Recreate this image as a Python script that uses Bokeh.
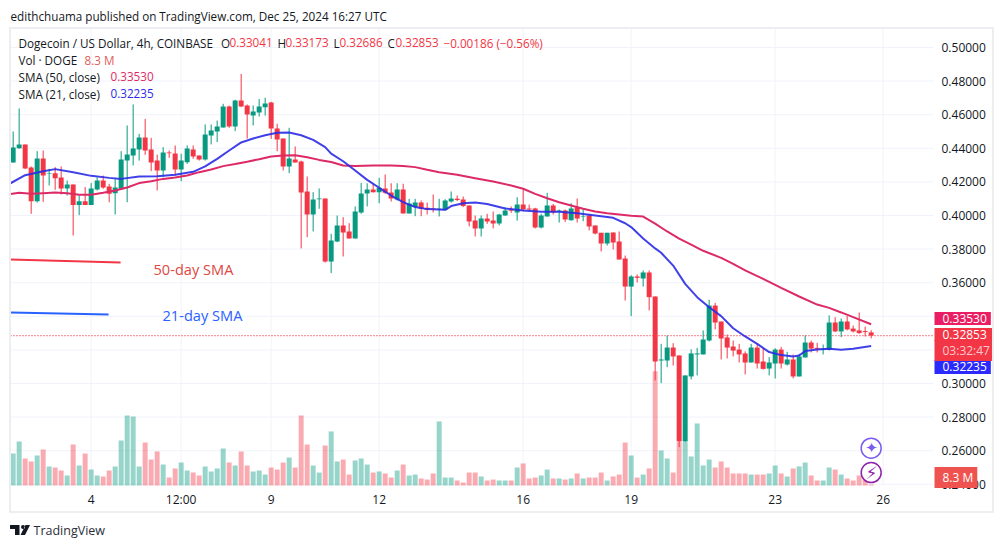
from bokeh.plotting import figure
from bokeh.embed import file_html
from bokeh.resources import INLINE
from bokeh.models import (Range1d, FixedTicker, NumeralTickFormatter, Label, InlineStyleSheet,
                          ColumnDataSource)

opens = [.4315,.4401,.4423,.4286,.4085,.4339,.4248,.4252,.4226,.4161,.4185,.4062,.4085,.4062,.4155,.4208,.4173,.4133,.4159,.4327,
 .4357,.4393,.4464,.4393,.4327,.4268,.4375,.4369,.4274,.4317,.4393,.4357,.4333,.4476,.4500,.4524,.4649,.4530,.4685,.4655,
 .4595,.4613,.4645,.4673,.4518,.4458,.4292,.4333,.4322,.4143,.4006,.4097,.4101,.3726,.3845,.3941,.3905,.3863,.4018,.4131,
 .4155,.4139,.4161,.4137,.4095,.4155,.4012,.4050,.4077,.4046,.4042,.4036,.4034,.4083,.4099,.4095,.4060,.3970,.3923,.3982,
 .3970,.3952,.4000,.4034,.4018,.4065,.4042,.4042,.3929,.3994,.4060,.4024,.4030,.3972,.4048,.3992,.4000,.3941,.3897,.3833,
 .3899,.3845,.3744,.3577,.3637,.3625,.3661,.3518,.3137,.3137,.3214,.3167,.2655,.3042,.3173,.3173,.3256,.3464,.3369,.3274,
 .3220,.3202,.3179,.3125,.3214,.3131,.3089,.3119,.3202,.3113,.3143,.3042,.3155,.3244,.3212,.3202,.3202,.3363,.3310,.3369,
 .3327,.3316,.3312,.33041]
highs = [.4500,.4637,.4423,.4292,.4383,.4387,.4278,.4288,.4292,.4208,.4185,.4119,.4169,.4193,.4228,.4238,.4189,.4218,.4383,.4536,
 .4661,.4486,.4575,.4462,.4363,.4407,.4387,.4417,.4367,.4417,.4417,.4357,.4542,.4542,.4565,.4665,.4655,.4689,.4843,.4661,
 .4655,.4693,.4701,.4677,.4546,.4458,.4522,.4411,.4327,.4232,.4139,.4161,.4101,.3891,.4000,.3990,.3954,.4054,.4194,.4192,
 .4189,.4224,.4244,.4192,.4192,.4189,.4099,.4099,.4089,.4077,.4125,.4099,.4097,.4143,.4119,.4113,.4060,.4000,.4000,.4010,
 .4024,.4010,.4050,.4054,.4109,.4153,.4065,.4046,.4010,.4135,.4069,.4036,.4036,.4073,.4101,.4040,.4010,.3941,.3897,.3897,
 .3899,.3905,.3762,.3645,.3649,.3673,.3673,.3518,.3236,.3286,.3240,.3167,.3048,.3203,.3212,.3316,.3498,.3480,.3369,.3292,
 .3256,.3236,.3191,.3236,.3232,.3210,.3157,.3210,.3218,.3189,.3173,.3177,.3286,.3256,.3242,.3232,.3405,.3395,.3387,.3401,
 .3345,.3423,.3339,.33173]
lows = [.4315,.4397,.4276,.4010,.4077,.4081,.4179,.4153,.4125,.4119,.3881,.4002,.4062,.4062,.4149,.4159,.4079,.4006,.4159,.4079,
 .4298,.4327,.4361,.4264,.4149,.4228,.4343,.4238,.4204,.4307,.4337,.4327,.4327,.4423,.4437,.4524,.4522,.4502,.4645,.4458,
 .4536,.4589,.4595,.4456,.4383,.4268,.4252,.4315,.3804,.3871,.3905,.4040,.3720,.3657,.3841,.3756,.3863,.3863,.4010,.4054,
 .4137,.4073,.4129,.4083,.4089,.4012,.4012,.3996,.3996,.4006,.4018,.3994,.4030,.4077,.4085,.4050,.3935,.3875,.3875,.3950,
 .3923,.3941,.3998,.4016,.3970,.4026,.4030,.3923,.3923,.3994,.4006,.3958,.3962,.3970,.3958,.3966,.3911,.3887,.3786,.3821,
 .3798,.3738,.3494,.3401,.3601,.3577,.3435,.3018,.3002,.3097,.3107,.2621,.2651,.3024,.3048,.3173,.3250,.3322,.3143,.3149,
 .3161,.3125,.3054,.3125,.3089,.3083,.3048,.3030,.3089,.3107,.3030,.3042,.3155,.3185,.3185,.3173,.3196,.3306,.3276,.3316,
 .3304,.3296,.3280,.32686]
closes = [.4405,.4423,.4280,.4085,.4339,.4238,.4252,.4222,.4161,.4185,.4062,.4085,.4062,.4161,.4208,.4167,.4129,.4167,.4333,.4363,
 .4399,.4464,.4387,.4315,.4268,.4375,.4371,.4274,.4327,.4399,.4351,.4333,.4482,.4506,.4530,.4649,.4530,.4685,.4649,.4601,
 .4619,.4649,.4667,.4518,.4452,.4292,.4339,.4315,.4137,.4006,.4095,.4101,.3726,.3851,.3941,.3899,.3863,.4024,.4131,.4155,
 .4139,.4165,.4135,.4101,.4155,.4012,.4071,.4077,.4040,.4034,.4038,.4040,.4089,.4101,.4093,.4056,.3964,.3923,.3982,.3964,
 .3952,.4006,.4030,.4028,.4065,.4036,.4036,.3929,.4000,.4060,.4018,.4030,.3976,.4042,.3982,.3996,.3935,.3893,.3833,.3897,
 .3839,.3738,.3577,.3637,.3629,.3661,.3514,.3131,.3143,.3214,.3161,.2655,.3048,.3179,.3179,.3262,.3464,.3363,.3268,.3214,
 .3196,.3173,.3125,.3214,.3119,.3087,.3125,.3202,.3119,.3143,.3042,.3161,.3244,.3208,.3206,.3208,.3363,.3310,.3369,.3322,
 .3310,.3300,.3306,.32853]
volumes = [269,370,227,202,252,302,160,151,126,84,344,168,269,134,84,76,126,160,378,588,580,160,361,218,286,176,67,143,193,126,
 109,84,160,118,143,311,193,168,286,168,118,126,92,151,134,193,235,151,588,344,168,109,336,454,
 202,218,92,210,227,176,109,118,101,67,126,176,84,92,59,50,101,538,67,67,42,25,109,109,76,42,50,42,42,42,151,185,59,67,84,134,
 59,59,50,59,101,59,67,67,109,42,76,92,361,252,67,92,143,960,294,
 227,109,364,364,244,521,168,218,151,202,151,101,101,101,92,92,92,101,168,101,76,143,160,193,84,42,42,151,134,92,59,42,84,50,8.3]

sma21_i = [-0.44,2,5,7,10,13,16,18,21,24,27,30,32,34,36,38,40,42,44,46,48,50,52,53,55,57,59,61,63,65,67,69,72,73,75,77,79,82,85,88,91,94,97,100,102,103,105,107,108,110,112,114,116,118,120,122,124,126,128,130,131,132,134,136,138,140,143]
sma21 = [.4192,.4240,.4264,.4276,.4258,.4236,.4224,.4218,.4232,.4234,.4242,.4260,.4292,.4337,.4387,.4435,.4458,.4478,.4492,.4494,.4478,.4450,.4407,.4368,.4323,.4268,.4212,.4165,.4119,.4080,.4050,.4038,.4034,.4056,.4073,.4077,.4069,.4042,.4030,.4022,.4022,.4014,.4000,.3986,.3954,.3931,.3863,.3804,.3778,.3702,.3593,.3514,.3454,.3401,.3329,.3280,.3236,.3187,.3169,.3161,.3167,.3193,.3203,.3207,.3201,.3207,.32235]
sma50_i = [-0.44,1,3,5,7,9,11,13,15,17,19,21,23,25,27,29,31,33,35,37,39,41,43,45,47,49,51,53,55,57,60,63,65,67,69,71,74,77,80,83,85,87,89,91,93,95,97,99,101,103,105,107,109,111,113,115,118,120,122,125,128,131,134,136,138,140,143]
sma50 = [.4128,.4135,.4129,.4133,.4137,.4133,.4123,.4123,.4135,.4149,.4167,.4193,.4204,.4218,.4226,.4238,.4258,.4274,.4294,.4306,.4320,.4335,.4351,.4357,.4359,.4347,.4331,.4318,.4298,.4294,.4298,.4298,.4294,.4288,.4272,.4258,.4242,.4222,.4202,.4179,.4159,.4129,.4103,.4079,.4060,.4040,.4024,.4014,.4006,.3998,.3994,.3952,.3905,.3863,.3827,.3790,.3748,.3712,.3673,.3623,.3569,.3518,.3470,.3450,.3423,.3395,.33530]

price_ticks = [.24,.26,.28,.30,.32,.34,.36,.38,.40,.42,.44,.46,.48,.50]
time_ticks = {13:"4",28:"12:00",43:"9",61:"12",85:"16",103:"19",127:"23",145:"26"}

note_red_i = [-0.44,17.9]; note_red_p = [.3738,.3720]
note_blue_i = [-0.44,15.9]; note_blue_p = [.3423,.3411]

GREEN="#089981"; RED="#F23645"; PINK="#DD2A66"; BLUE="#2B2BE6"; INK="#131722"; GRID="#F0F3FA"
FONT="Open Sans"; FS=11.7

css = InlineStyleSheet(css="""
:host::after{content:'';position:absolute;left:9px;top:27px;width:985px;height:486px;border:2px solid #EDEEF1;pointer-events:none;box-sizing:border-box}
:host::before{content:'';position:absolute;left:10px;top:525px;width:20px;height:10px;background:#131722;z-index:2;
clip-path:path('M0 0H9.5V10H5V4H0Z M11 2a2 2 0 1 0 4 0a2 2 0 1 0-4 0Z M15.5 0H20L15 10H10.5Z')}
""")

# pane limits in chart units: the price pane ends here, the axes sit on its edges
I0,I1=-0.445,153.39
P0,P1=.23929,.51131

W,H=1000,540
p = figure(width=W,height=H,output_backend="svg",toolbar_location=None,tools="",
           x_range=Range1d(-2.111,164.556),y_range=Range1d(.20655,.52798),
           y_axis_location="right",min_border_left=0,min_border_top=0,min_border_right=0,min_border_bottom=0)
p.stylesheets=[css]
p.outline_line_color=None
p.background_fill_color="white"
p.extra_y_ranges={"vol":Range1d(-462,4074)}
p.grid.visible=False

ax=p.yaxis[0]
ax.fixed_location=I1
ax.ticker=FixedTicker(ticks=price_ticks); ax.formatter=NumeralTickFormatter(format="0.00000")
ax.axis_line_color=None; ax.major_tick_line_color=None; ax.minor_tick_line_color=None
ax.major_tick_out=0; ax.major_tick_in=0
ax.major_label_text_font=FONT; ax.major_label_text_font_size="12px"; ax.major_label_text_color=INK
ax.major_label_standoff=8
bx=p.xaxis[0]
bx.fixed_location=P0
bx.ticker=FixedTicker(ticks=list(time_ticks)); bx.major_label_overrides=time_ticks
bx.axis_line_color=None; bx.major_tick_line_color=None; bx.minor_tick_line_color=None
bx.major_tick_out=0; bx.major_tick_in=0
bx.major_label_text_font=FONT; bx.major_label_text_font_size="12px"; bx.major_label_text_color=INK
bx.major_label_standoff=6

p.segment(x0=[I0]*len(price_ticks),x1=[I1]*len(price_ticks),y0=price_ticks,y1=price_ticks,line_color=GRID,line_width=1)
p.segment(x0=list(time_ticks),x1=list(time_ticks),y0=[P0]*len(time_ticks),y1=[P1]*len(time_ticks),line_color=GRID,line_width=1)

idx=list(range(len(closes)))
col=[GREEN if c>=o else RED for o,c in zip(opens,closes)]
src=ColumnDataSource(dict(i=idx,o=opens,h=highs,l=lows,c=closes,v=volumes,col=col))
p.vbar(x="i",top="v",bottom=0,width=0.83,source=src,y_range_name="vol",fill_color="col",line_color=None,fill_alpha=0.42)
p.line([I0,I1],[closes[-1],closes[-1]],line_color=RED,line_width=1.2,line_dash="1 2")
p.segment(x0="i",y0="l",x1="i",y1="h",source=src,line_color="col",line_width=1)
p.vbar(x="i",top="o",bottom="c",width=0.83,source=src,fill_color="col",line_color=None)
p.line(sma50_i,sma50,line_color=PINK,line_width=2)
p.line(sma21_i,sma21,line_color=BLUE,line_width=2,line_alpha=0.9)
p.line(note_red_i,note_red_p,line_color=RED,line_width=2)
p.line(note_blue_i,note_blue_p,line_color="#2962FF",line_width=2)

def txt(s,x,y,color=INK,size=FS,align="left",font=FONT,**kw):
    p.add_layout(Label(x=x,y=y,x_units="canvas",y_units="canvas",text=s,text_color=color,
        text_font=font,text_font_size=f"{size}px",text_align=align,text_baseline="middle",level="overlay",**kw))
def tag(s,y,fill,color="white",pad=(8,4,2,2)):
    txt(s,934,y,color,12,background_fill_color=fill,padding=pad)

txt("edithchuama published on TradingView.com, Dec 25, 2024 16:27 UTC",10,15)
txt("Dogecoin / US Dollar, 4h, COINBASE",18,42)
for s,x,c in [("O",220.5,INK),("0.33041",229,RED),("H",277,INK),("0.33173",285,RED),("L",333,INK),("0.32686",339,RED),
              ("C",387,INK),("0.32853",395,RED),("−0.00186 (−0.56%)",443,RED)]:
    txt(s,x,42,c)
txt("Vol · DOGE",18,59); txt("8.3 M",84,59,"#E0605A")
txt("SMA (50, close)",18,76); txt("0.33530",110,76,PINK)
txt("SMA (21, close)",18,93); txt("0.32235",110,93,BLUE)
txt("50-day SMA",153,268,"#E0483F",14.6)
txt("21-day SMA",162,314,"#2962FF",14.6)

tag("0.33530",318,"#E91E63")
tag("0.32235",366.5,"#2A2AFF",pad=(8,4,2,3))
tag("0.32853",334,RED,pad=(8,7,2,2))
tag("03:32:47",350,RED,"#FFC8CC",pad=(8,2,2,2))
tag("8.3 M",477,"#EF5350")

p.scatter([143,143],[.2615,.2470],marker="circle",size=20,fill_color="white",line_color=["#7B5CF0","#8E24AA"],line_width=1.5)
txt("✦",871,447,"#7B5CF0",15,"center","DejaVu Sans")
txt("⚡",871,472,"#8E24AA",17,"center","DejaVu Sans")
txt("TradingView",33,530,"#2A2E39",12.5)

open("out.html","w").write(file_html(p,INLINE))
